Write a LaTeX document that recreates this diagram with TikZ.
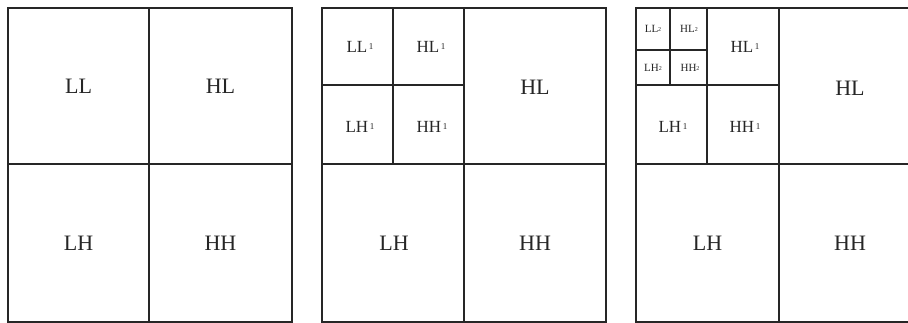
\documentclass[tikz,border=0pt]{standalone}
\usepackage{fontspec}
\setmainfont{Liberation Serif}
\newcommand\bigfs{\fontsize{22}{22}\selectfont}
\newcommand\midfs{\fontsize{17}{17}\selectfont}
\newcommand\smlfs{\fontsize{11}{11}\selectfont}
\newcommand\midlab[2]{{\midfs #1}\,\raisebox{0.35em}{\fontsize{9}{9}\selectfont #2}}
\newcommand\smllab[2]{{\smlfs #1}\raisebox{0.1em}{\fontsize{6}{6}\selectfont #2}}
\tikzset{
  gridline/.style={draw=black!85, line width=1.2pt},
  lab/.style={inner sep=0pt, text=black!85, anchor=center}
}
\begin{document}
\begin{tikzpicture}[x=1pt,y=-1pt]
\useasboundingbox (0,0) rectangle (908,323);
\fill[white] (0,0) rectangle (908,323);
\begin{scope}
\clip (0,0) rectangle (908,323);
% Panel 1
\draw[gridline] (8,8) rectangle (292,322);
\draw[gridline] (149,8) -- (149,322);
\draw[gridline] (8,164) -- (292,164);
\node[lab] (p1ll) at (78.5,86) {\bigfs LL};
\node[lab] (p1hl) at (220.5,86) {\bigfs HL};
\node[lab] (p1lh) at (78.5,243) {\bigfs LH};
\node[lab] (p1hh) at (220.5,243) {\bigfs HH};
% Panel 2
\draw[gridline] (322,8) rectangle (606,322);
\draw[gridline] (464,8) -- (464,322);
\draw[gridline] (322,164) -- (606,164);
\draw[gridline] (393,8) -- (393,164);
\draw[gridline] (322,85) -- (464,85);
\node[lab] (p2ll) at (360,47) {\midlab{LL}{1}};
\node[lab] (p2hl) at (431,47) {\midlab{HL}{1}};
\node[lab] (p2lh) at (360,127) {\midlab{LH}{1}};
\node[lab] (p2hh) at (432,127) {\midlab{HH}{1}};
\node[lab] (p2HL) at (535,87) {\bigfs HL};
\node[lab] (p2LH) at (394,243) {\bigfs LH};
\node[lab] (p2HH) at (535,243) {\bigfs HH};
% Panel 3
\draw[gridline] (636,8) rectangle (922,322);
\draw[gridline] (779,8) -- (779,322);
\draw[gridline] (636,164) -- (922,164);
\draw[gridline] (707,8) -- (707,164);
\draw[gridline] (636,85) -- (779,85);
\draw[gridline] (670,8) -- (670,85);
\draw[gridline] (636,50) -- (707,50);
\node[lab] (p3ll2) at (653,28.5) {\smllab{LL}{2}};
\node[lab] (p3hl2) at (689,28.5) {\smllab{HL}{2}};
\node[lab] (p3lh2) at (653,67.5) {\smllab{LH}{2}};
\node[lab] (p3hh2) at (690,67.5) {\smllab{HH}{2}};
\node[lab] (p3hl1) at (745,47) {\midlab{HL}{1}};
\node[lab] (p3lh1) at (673,127) {\midlab{LH}{1}};
\node[lab] (p3hh1) at (745,127) {\midlab{HH}{1}};
\node[lab] (p3HL) at (850,88) {\bigfs HL};
\node[lab] (p3LH) at (707.5,243) {\bigfs LH};
\node[lab] (p3HH) at (850,243) {\bigfs HH};
\end{scope}
\end{tikzpicture}
\end{document}
